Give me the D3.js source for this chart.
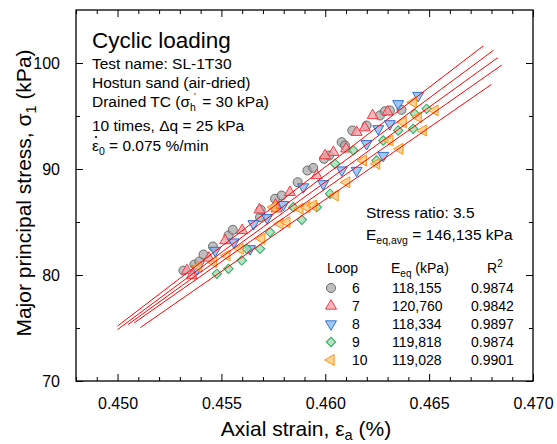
<!DOCTYPE html>
<html><head><meta charset="utf-8">
<script src="https://cdn.jsdelivr.net/npm/d3@7"></script>
<style>body{margin:0;background:#fff} svg{display:block} text{font-family:"Liberation Sans",Arial,sans-serif;fill:#000}</style>
</head><body><div id="chart"></div>
<script>
// ---------- data ----------
const loops = ["6","7","8","9","10"];
const eqModulus = ["118,155","120,760","118,334","119,818","119,028"];
const rSquared = ["0.9874","0.9842","0.9897","0.9874","0.9901"];
const xTicks = [0.450,0.455,0.460,0.465,0.470];
const yTicks = [70,80,90,100];

const loop6Strain = [0.45317,0.45370,0.45394,0.45414,0.45459,0.45534,0.45555,0.45686,0.45689,0.45758,0.45790,0.45867,0.45914,0.45942,0.45994,0.46018,0.46079,0.46095,0.46130,0.46199,0.46263,0.46287,0.46311,0.46367];
const loop6Stress = [80.42,80.99,81.27,81.93,82.69,83.73,84.26,85.45,86.15,87.19,87.50,88.75,89.86,90.11,90.96,91.27,92.53,92.22,93.63,94.10,95.05,95.45,95.52,95.58];

const loop7Strain = [0.45334,0.45358,0.45440,0.45518,0.45600,0.45683,0.45766,0.45760,0.45830,0.45959,0.45999,0.46039,0.46100,0.46151,0.46190,0.46228,0.46300];
const loop7Stress = [80.42,79.95,81.60,83.25,84.20,86.15,86.25,86.60,87.80,89.39,91.27,91.58,91.90,93.47,93.90,95.05,95.40];

const loop8Strain = [0.45382,0.45470,0.45560,0.45638,0.45654,0.45720,0.45798,0.45894,0.45990,0.46080,0.46151,0.46199,0.46255,0.46279,0.46311,0.46351,0.46447];
const loop8Stress = [80.58,82.31,83.10,82.47,84.83,85.40,86.64,88.30,88.60,89.90,89.86,92.38,93.79,91.27,94.26,96.15,96.93];

const loop9Strain = [0.45478,0.45534,0.45598,0.45622,0.45686,0.45734,0.45846,0.45887,0.45959,0.46023,0.46047,0.46135,0.46247,0.46279,0.46351,0.46423,0.46431,0.46488];
const loop9Stress = [80.11,80.58,81.37,82.47,82.47,84.04,86.40,85.21,86.40,87.66,90.49,91.75,90.80,92.69,93.63,93.79,95.21,95.68];

const loop10Strain = [0.45390,0.45462,0.45526,0.45590,0.45694,0.45750,0.45782,0.45815,0.45878,0.45911,0.45942,0.46047,0.46103,0.46183,0.46247,0.46311,0.46359,0.46375,0.46423,0.46447,0.46471,0.46528];
const loop10Stress = [80.80,81.21,81.84,82.47,83.42,86.40,84.83,84.98,86.25,86.40,86.56,87.50,88.75,90.80,90.49,92.69,91.90,94.41,96.30,94.89,93.63,95.52];

// linear fit lines (one per loop)
const fitStrainStart = [0.4500,0.4500,0.4505,0.4508,0.4511];
const fitStressStart = [75.18,74.85,75.32,75.48,75.04];
const fitStrainEnd   = [0.4676,0.4681,0.4683,0.4685,0.4680];
const fitStressEnd   = [101.6,101.2,100.5,99.81,97.98];

// ---------- layout ----------
const W = 557, H = 444;
const M = {left:76, right:533, top:10, bottom:381};
const x = d3.scaleLinear().domain([0.448,0.470]).range([M.left,M.right]);
const y = d3.scaleLinear().domain([70,105]).range([M.bottom,M.top]);

const svg = d3.select("#chart").append("svg").attr("width",W).attr("height",H);

const styles = [
  {type:d3.symbolCircle, size:64, rot:0, fill:"#a9a9a9", stroke:"#6a6a6a"},
  {type:d3.symbolTriangle, size:52, rot:0, fill:"#f7a1a6", stroke:"#ef3b46"},
  {type:d3.symbolTriangle, size:52, rot:180, fill:"#86b4ef", stroke:"#2d72d8"},
  {type:d3.symbolSquare, size:44, rot:45, fill:"#98dcb0", stroke:"#2fa95e"},
  {type:d3.symbolTriangle, size:52, rot:-90, fill:"#ffc57a", stroke:"#ff9410"}
];
const series = [
  [loop6Strain,loop6Stress],[loop7Strain,loop7Stress],[loop8Strain,loop8Stress],
  [loop9Strain,loop9Stress],[loop10Strain,loop10Stress]
];

// axes (inward ticks on all four sides)
const minorX = d3.range(0,23).map(i=>+(0.448+i*0.001).toFixed(3)).filter(v=>!xTicks.some(t=>Math.abs(t-v)<1e-9));
const minorY = [75,85,95];
function addAxis(axis, tr){ const g=svg.append("g").attr("transform",tr).call(axis); g.select(".domain").remove(); g.selectAll("line").attr("stroke","#000").attr("stroke-width",1); return g; }
const fmtX = d3.format(".3f");
const bx = addAxis(d3.axisBottom(x).tickValues(xTicks).tickFormat(fmtX).tickSize(-7).tickPadding(17), `translate(0,${M.bottom})`);
bx.selectAll("text").attr("font-size",16).attr("font-family","Liberation Sans, Arial, sans-serif").attr("dy","0.71em");
addAxis(d3.axisBottom(x).tickValues(minorX).tickFormat("").tickSize(-4), `translate(0,${M.bottom})`);
addAxis(d3.axisTop(x).tickValues(xTicks).tickFormat("").tickSize(-7), `translate(0,${M.top})`);
addAxis(d3.axisTop(x).tickValues(minorX).tickFormat("").tickSize(-4), `translate(0,${M.top})`);
const ly = addAxis(d3.axisLeft(y).tickValues(yTicks).tickSize(-7).tickPadding(16), `translate(${M.left},0)`);
ly.selectAll("text").attr("font-size",16).attr("font-family","Liberation Sans, Arial, sans-serif");
addAxis(d3.axisLeft(y).tickValues(minorY).tickFormat("").tickSize(-4), `translate(${M.left},0)`);
addAxis(d3.axisRight(y).tickValues(yTicks).tickFormat("").tickSize(-7), `translate(${M.right},0)`);
addAxis(d3.axisRight(y).tickValues(minorY).tickFormat("").tickSize(-4), `translate(${M.right},0)`);

// frame
svg.append("rect").attr("x",M.left).attr("y",M.top).attr("width",M.right-M.left).attr("height",M.bottom-M.top)
  .attr("fill","none").attr("stroke","#000").attr("stroke-width",1.3);

// points
series.forEach((s,i)=>{
  const st = styles[i];
  const sym = d3.symbol().type(st.type).size(st.size);
  svg.append("g").selectAll("path").data(s[0].map((v,k)=>[v,s[1][k]])).join("path")
    .attr("d",sym)
    .attr("transform",d=>`translate(${x(d[0])},${y(d[1])}) rotate(${st.rot})`)
    .attr("fill",st.fill).attr("fill-opacity",0.75)
    .attr("stroke",st.stroke).attr("stroke-width",1);
});

// fit lines
svg.append("g").selectAll("line").data(loops.map((l,i)=>i)).join("line")
  .attr("x1",i=>x(fitStrainStart[i])).attr("y1",i=>y(fitStressStart[i]))
  .attr("x2",i=>x(fitStrainEnd[i])).attr("y2",i=>y(fitStressEnd[i]))
  .attr("stroke","#ff0000").attr("stroke-width",1);

// text block top-left
const tb = svg.append("g");
tb.append("text").attr("x",92).attr("y",48).attr("font-size",22.5).text("Cyclic loading");
tb.append("text").attr("x",92).attr("y",69).attr("font-size",15.5).text("Test name: SL-1T30");
tb.append("text").attr("x",92).attr("y",88).attr("font-size",15.5).text("Hostun sand (air-dried)");
const dr = tb.append("text").attr("x",92).attr("y",107).attr("font-size",15.5);
dr.append("tspan").text("Drained TC (σ");
dr.append("tspan").attr("font-size",10.5).attr("dy",4).text("h");
dr.append("tspan").attr("dx",2).attr("dy",-4).text(" = 30 kPa)");
tb.append("text").attr("x",194).attr("y",99).attr("font-size",9).text("'");
tb.append("text").attr("x",92).attr("y",131).attr("font-size",15.5).text("10 times, Δq = 25 kPa");
const er = tb.append("text").attr("x",92).attr("y",151).attr("font-size",15.5);
er.append("tspan").text("ε");
er.append("tspan").attr("font-size",10.5).attr("dy",4).text("0");
er.append("tspan").attr("dy",-4).text(" = 0.075 %/min");
tb.append("circle").attr("cx",96).attr("cy",137).attr("r",1.1).attr("fill","#000");

// stress ratio and average modulus
svg.append("text").attr("x",366).attr("y",218).attr("font-size",15.5).text("Stress ratio: 3.5");
const ea = svg.append("text").attr("x",366).attr("y",240).attr("font-size",15.5);
ea.append("tspan").text("E");
ea.append("tspan").attr("font-size",10.5).attr("dy",4).text("eq,avg");
ea.append("tspan").attr("dy",-4).text(" = 146,135 kPa");

// legend table
const lg = svg.append("g").attr("font-size",14);
lg.append("text").attr("x",327).attr("y",273).text("Loop");
const eh = lg.append("text").attr("x",391).attr("y",273);
eh.append("tspan").text("E");
eh.append("tspan").attr("font-size",10).attr("dy",4).text("eq");
eh.append("tspan").attr("dy",-4).text(" (kPa)");
const rh = lg.append("text").attr("x",487).attr("y",273);
rh.append("tspan").text("R");
rh.append("tspan").attr("font-size",10).attr("dy",-6).text("2");
const rowY = [293,311,329,347,365];
loops.forEach((l,i)=>{
  const st = styles[i];
  lg.append("path").attr("d",d3.symbol().type(st.type).size(st.size)())
    .attr("transform",`translate(331,${rowY[i]-5}) rotate(${st.rot})`)
    .attr("fill",st.fill).attr("fill-opacity",0.75).attr("stroke",st.stroke).attr("stroke-width",1);
  lg.append("text").attr("x",352).attr("y",rowY[i]).text(l);
  lg.append("text").attr("x",392).attr("y",rowY[i]).text(eqModulus[i]);
  lg.append("text").attr("x",471).attr("y",rowY[i]).text(rSquared[i]);
});

// axis titles
const xt = svg.append("text").attr("x",306).attr("y",436).attr("text-anchor","middle").attr("font-size",21);
xt.append("tspan").text("Axial strain, ε");
xt.append("tspan").attr("font-size",14.5).attr("dy",4).text("a");
xt.append("tspan").attr("dy",-4).text(" (%)");
const yt = svg.append("text").attr("transform","translate(31,193) rotate(-90)").attr("text-anchor","middle").attr("font-size",21);
yt.append("tspan").text("Major principal stress, σ");
yt.append("tspan").attr("font-size",14.5).attr("dy",5).text("1");
yt.append("tspan").attr("dy",-5).text(" (kPa)");
</script></body></html>
